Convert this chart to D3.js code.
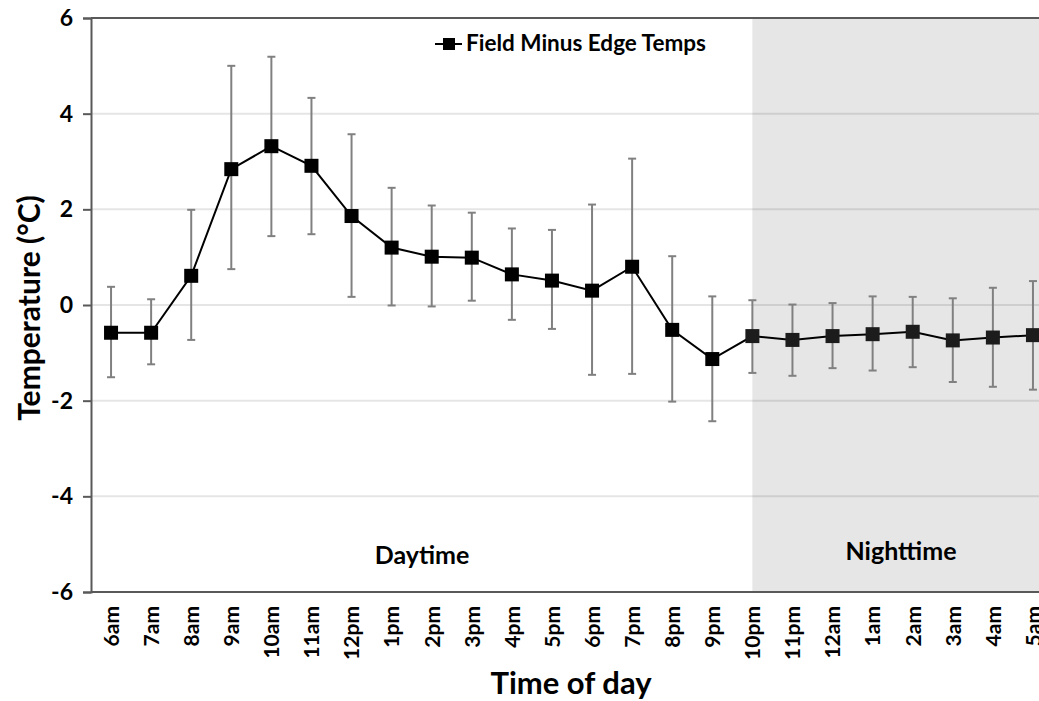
<!DOCTYPE html>
<html>
<head>
<meta charset="utf-8">
<script src="https://cdn.jsdelivr.net/npm/d3@7"></script>
<style>
  body { margin: 0; background: #fff; }
  svg { display: block; font-family: Lato, "Open Sans", sans-serif; }
</style>
</head>
<body>
<div class="chart"></div>
<script>
var hours = ["6am","7am","8am","9am","10am","11am","12pm","1pm","2pm","3pm","4pm","5pm",
             "6pm","7pm","8pm","9pm","10pm","11pm","12am","1am","2am","3am","4am","5am"];
var means = [-0.58,-0.58,0.61,2.84,3.32,2.91,1.86,1.2,1.01,0.99,0.64,0.51,
             0.3,0.8,-0.52,-1.13,-0.65,-0.73,-0.65,-0.61,-0.56,-0.74,-0.68,-0.63];
var upper = [0.38,0.12,1.99,5.0,5.19,4.33,3.57,2.45,2.08,1.93,1.6,1.57,
             2.1,3.06,1.02,0.18,0.1,0.01,0.04,0.18,0.17,0.14,0.36,0.5];
var lower = [-1.51,-1.24,-0.73,0.75,1.44,1.48,0.17,-0.01,-0.03,0.09,-0.31,-0.5,
             -1.46,-1.44,-2.02,-2.43,-1.42,-1.48,-1.32,-1.37,-1.3,-1.61,-1.71,-1.77];
var yTicks = [-6,-4,-2,0,2,4,6];
var nightStart = "10pm";

var W = 1039, H = 701;
var m = { left: 91, top: 18, bottom: 592, right: 1053 };

var data = hours.map((h, i) => ({ h: h, v: means[i], hi: upper[i], lo: lower[i] }));

var x = d3.scalePoint().domain(hours).range([m.left, m.right]).padding(0.5);
var y = d3.scaleLinear().domain([-6, 6]).range([m.bottom, m.top]);

var svg = d3.select('.chart').append('svg')
  .attr('width', W).attr('height', H);

// night shading, from the 10pm point to the right
svg.append('rect')
  .attr('x', x(nightStart))
  .attr('y', m.top)
  .attr('width', m.right - x(nightStart))
  .attr('height', m.bottom - m.top)
  .attr('fill', '#e6e6e6');

// gridlines
svg.selectAll('.grid').data(yTicks.filter(d => d > -6 && d < 6)).enter()
  .append('line')
  .attr('x1', m.left).attr('x2', m.right)
  .attr('y1', d => y(d)).attr('y2', d => y(d))
  .attr('stroke', 'rgba(0,0,0,0.1)').attr('stroke-width', 2);

// frame lines top and bottom
[m.top, m.bottom].forEach(py => {
  svg.append('line').attr('x1', m.left).attr('x2', m.right)
    .attr('y1', py).attr('y2', py)
    .attr('stroke', '#595959').attr('stroke-width', 2);
});

// y axis
var yAxis = d3.axisLeft(y).tickValues(yTicks).tickSize(8).tickPadding(10)
  .tickFormat(d => String(d));
var gy = svg.append('g').attr('transform', 'translate(' + m.left + ',0)').call(yAxis);
gy.select('.domain').attr('stroke', '#595959').attr('stroke-width', 2);
gy.selectAll('.tick line').attr('stroke', '#595959').attr('stroke-width', 2);
gy.selectAll('.tick text')
  .attr('font-size', 23).attr('font-weight', 'bold').attr('fill', '#000')
  .attr('font-family', 'Lato, sans-serif');

// x axis labels, rotated
var xAxis = d3.axisBottom(x).tickSize(0).tickPadding(0);
var gx = svg.append('g').attr('transform', 'translate(0,' + m.bottom + ')').call(xAxis);
gx.select('.domain').remove();
gx.selectAll('.tick text')
  .attr('font-size', 21).attr('font-weight', 'bold').attr('fill', '#000')
  .attr('font-family', 'Lato, sans-serif')
  .attr('transform', 'rotate(-90)')
  .attr('text-anchor', 'end')
  .attr('x', -14).attr('y', 0).attr('dy', '0.35em');

// error bars
var eb = svg.selectAll('.err').data(data).enter().append('g');
eb.append('line')
  .attr('x1', d => x(d.h)).attr('x2', d => x(d.h))
  .attr('y1', d => y(d.hi)).attr('y2', d => y(d.lo))
  .attr('stroke', '#808080').attr('stroke-width', 2);
['hi', 'lo'].forEach(k => {
  eb.append('line')
    .attr('x1', d => x(d.h) - 4).attr('x2', d => x(d.h) + 4)
    .attr('y1', d => y(d[k])).attr('y2', d => y(d[k]))
    .attr('stroke', '#808080').attr('stroke-width', 2);
});

// line
svg.append('path').datum(data)
  .attr('fill', 'none').attr('stroke', '#000').attr('stroke-width', 2)
  .attr('d', d3.line().x(d => x(d.h)).y(d => y(d.v)));

// markers
svg.selectAll('.pt').data(data).enter().append('rect')
  .attr('x', d => x(d.h) - 7).attr('y', d => y(d.v) - 7)
  .attr('width', 14).attr('height', 14)
  .attr('fill', d => hours.indexOf(d.h) >= hours.indexOf(nightStart) ? '#1c1c1c' : '#000');

// legend
svg.append('line').attr('x1', 435).attr('x2', 462).attr('y1', 44).attr('y2', 44)
  .attr('stroke', '#000').attr('stroke-width', 2);
svg.append('rect').attr('x', 443).attr('y', 38).attr('width', 12).attr('height', 12).attr('fill', '#000');
svg.append('text').attr('x', 466).attr('y', 51)
  .attr('font-size', 22.5).attr('font-weight', 'bold').text('Field Minus Edge Temps');

// period labels
svg.append('text').attr('x', 422).attr('y', 564).attr('text-anchor', 'middle')
  .attr('font-size', 25).attr('font-weight', 'bold').text('Daytime');
svg.append('text').attr('x', 901).attr('y', 560).attr('text-anchor', 'middle')
  .attr('font-size', 25).attr('font-weight', 'bold').text('Nighttime');

// axis titles
svg.append('text').attr('x', 571).attr('y', 694).attr('text-anchor', 'middle')
  .attr('font-size', 31).attr('font-weight', 'bold').text('Time of day');
svg.append('text')
  .attr('transform', 'translate(40,' + ((m.top + m.bottom) / 2 + 3) + ') rotate(-90)')
  .attr('text-anchor', 'middle')
  .attr('font-size', 30).attr('font-weight', 'bold').text('Temperature (°C)');
</script>
</body>
</html>
